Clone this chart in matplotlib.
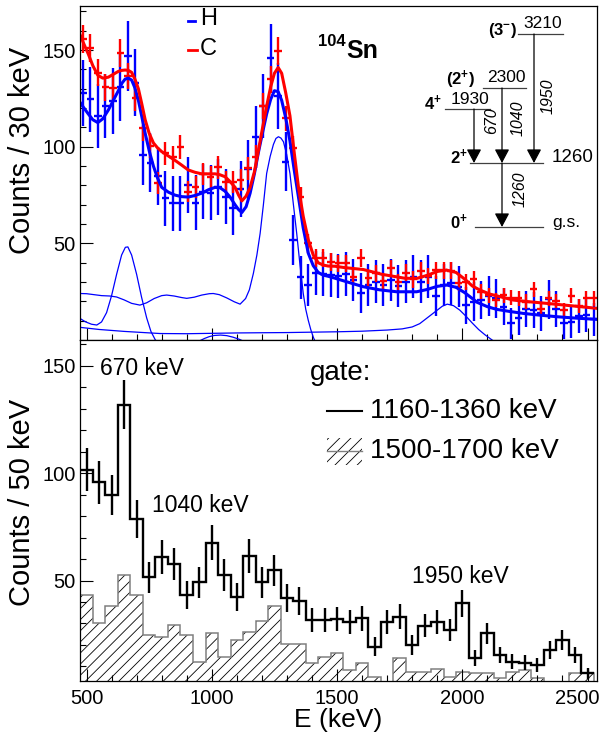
import numpy as np
import matplotlib
matplotlib.use("Agg")
import matplotlib.pyplot as plt
from matplotlib.patches import Rectangle
from matplotlib.ticker import MultipleLocator
from matplotlib.transforms import ScaledTranslation

plt.rcParams['font.family'] = ['Liberation Sans', 'DejaVu Sans']
plt.rcParams['mathtext.fontset'] = 'custom'
plt.rcParams['mathtext.rm'] = 'Liberation Sans'
plt.rcParams['mathtext.it'] = 'Liberation Sans:italic'
plt.rcParams['mathtext.bf'] = 'Liberation Sans:bold'
plt.rcParams['hatch.linewidth'] = 0.6

# ---- upper panel: 30 keV bins, H and C targets
top_bins = np.arange(485, 2526, 30)
h_counts = [128, 124.5, 115.9, 121.1, 123.8, 130.7, 146.9, 133.1, 95.7, 91.8,
            84.9, 73.3, 70.7, 70.7, 80.2, 71.1, 76.8, 76.3, 79.3, 74.2,
            68.1, 78, 88.3, 105.2, 121.1, 145.7, 126.3, 92.3, 51.8, 32.4,
            28.5, 34.9, 34.2, 33.5,
            33.1, 34.2, 31.1, 24.2, 28.5, 30.2, 28.5, 31.1, 28.0, 30.2,
            32.8, 30.2, 32.8, 22.8, 28.5, 29.3, 27.6, 18.1, 19.9, 20.7,
            22.8, 21.6, 17.3, 8.6, 11.2, 15.9, 15.5, 13.8, 21.1, 15.9,
            9.0, 9.5, 12.4, 13.0, 10.7]
h_err = [17.1, 17.0, 16.6, 16.8, 17.0, 17.3, 18.0, 17.4, 15.5, 15.3,
         14.9, 14.2, 14.1, 14.1, 14.6, 14.1, 14.4, 14.4, 14.6, 14.3,
         13.9, 14.5, 15.1, 16.0, 16.8, 18.0, 17.1, 15.3, 12.8, 11.2,
         10.8, 11.4, 11.3, 11.3,
         11.2, 11.3, 11.0, 10.3, 10.8, 11.0, 10.8, 11.0, 10.7, 11.0,
         11.2, 11.0, 11.2, 10.2, 10.8, 10.9, 10.7, 9.6, 9.9, 10.0,
         10.2, 10.0, 9.5, 8.2, 8.7, 9.3, 9.3, 9.1, 10.0, 9.3,
         8.3, 8.4, 8.9, 9.0, 8.6]
c_counts = [155.6, 150.9, 138.3, 130.7, 130.2, 148.6, 136.6, 125.0, 109.5, 100.5,
            81.4, 96.6, 94.5, 100.0, 76.8, 79.3, 85.9, 84.5, 89.3, 81.9,
            81.9, 82.8, 88.8, 94.9, 121.1, 134.9, 149.7, 114.7, 99.2, 73.8,
            50.0, 42.3, 42.3, 40.6,
            39.7, 39.7, 32.8, 42.3, 31.9, 34.5, 30.5, 37.1, 30.2, 34.9,
            31.4, 35.9, 33.1, 36.2, 36.2, 35.9, 29.7, 30.2, 31.4, 25.0,
            23.3, 20.7, 23.3, 21.9, 21.6, 19.9, 26.2, 15.9, 21.6, 20.4,
            15.5, 23.0, 17.6, 21.6, 21.6]
c_err = [7.3, 7.2, 7.0, 6.8, 6.8, 7.2, 6.9, 6.7, 6.4, 6.2,
         5.7, 6.1, 6.1, 6.2, 5.6, 5.7, 5.9, 5.8, 5.9, 5.8,
         5.8, 5.8, 5.9, 6.1, 6.6, 6.9, 7.2, 6.5, 6.2, 5.6,
         4.9, 4.6, 4.6, 4.6,
         4.5, 4.5, 4.3, 4.6, 4.2, 4.3, 4.2, 4.4, 4.2, 4.3,
         4.2, 4.4, 4.3, 4.4, 4.4, 4.4, 4.1, 4.2, 4.2, 3.9,
         3.9, 3.7, 3.9, 3.8, 3.8, 3.7, 4.0, 3.5, 3.8, 3.7,
         3.5, 3.8, 3.6, 3.8, 3.8]

# fit curves
fit_h_e = [474, 490, 507, 525, 545, 565, 587, 607, 627, 642, 654, 667, 680, 693, 707,
           720, 734, 750, 767, 783, 800, 827, 853, 880, 906, 933, 960, 987, 1013, 1033,
           1053, 1073, 1093, 1107, 1120, 1137, 1153, 1170, 1186, 1203, 1219, 1235, 1250,
           1265, 1279, 1295, 1312, 1329, 1346, 1365, 1385, 1405, 1425, 1445, 1465, 1492,
           1530, 1605, 1670, 1738, 1818, 1860, 1900, 1938, 1975, 2010, 2031, 2060, 2100,
           2137, 2190, 2244, 2310, 2377, 2450, 2540]
fit_h = [123, 120, 117, 114, 112.5, 114.5, 119, 124, 129, 133, 135, 135.5, 134.5, 130.5, 124,
         116, 107, 98, 90, 84, 79, 76.5, 75, 74.2, 74, 74.8, 76, 77.8, 79, 78.8,
         77, 74, 70, 67.5, 66, 69, 76, 86, 97, 107.5, 117, 124.5, 129,
         128.5, 124, 115, 103, 88, 74, 58, 45, 38.5, 35, 33.6, 33, 32,
         30.5, 27.6, 26, 25, 25, 26.2, 27.8, 28.5, 27.3, 24.5, 22.4, 19.5, 17.3,
         15.9, 14.8, 13.8, 12.9, 12.1, 11.4, 10.7]
fit_c_e = [474, 490, 507, 525, 545, 565, 587, 607, 627, 640, 654, 667, 680, 693, 707,
           720, 734, 750, 767, 783, 800, 827, 853, 880, 906, 933, 960, 987, 1013, 1033,
           1053, 1073, 1093, 1107, 1120, 1137, 1153, 1170, 1186, 1203, 1219, 1235, 1250,
           1265, 1279, 1295, 1312, 1329, 1346, 1365, 1385, 1405, 1425, 1445, 1465, 1492,
           1530, 1605, 1680, 1770, 1818, 1860, 1900, 1938, 1975, 2010, 2040, 2070, 2110,
           2204, 2270, 2337, 2440, 2540]
fit_c = [158, 153, 148, 142, 137, 135.5, 136, 137.5, 139, 139.5, 139.7, 139.5, 138.5, 135, 130,
         122.5, 114, 107, 102, 99.5, 97.5, 95.2, 93, 90.5, 88, 86.8, 86, 86, 86, 85.5,
         84.5, 82, 79, 75, 72, 74.5, 79, 87, 98, 110, 121, 131, 138,
         141, 138, 128, 116, 97, 79, 64, 52, 44, 40, 38.8, 38.3, 38.2,
         37.5, 36.5, 34, 32, 31.9, 33.5, 35.5, 36.2, 35, 31.5, 28, 25.9, 23.8,
         20.7, 19.8, 19, 17.7, 16.4]

comp670_e = [474, 495, 520, 541, 560, 580, 600, 620, 640, 655, 665, 680, 700, 720, 740, 757, 775, 790]
comp670 = [11.2, 9.5, 8.2, 7.8, 9.4, 14.2, 23, 34, 44, 48, 48.2, 44, 34, 22, 11.5, 4.5, 0, -2]
comp1260_e = [474, 500, 530, 560, 594, 620, 650, 680, 713, 740, 770, 800, 820, 850, 880,
              900, 930, 960, 990, 1006, 1030, 1060, 1090, 1113, 1135, 1150, 1166, 1180, 1193,
              1206, 1219, 1233, 1246, 1256, 1266, 1276, 1286, 1299, 1312, 1325, 1339, 1352,
              1365, 1375, 1385, 1395, 1405, 1415]
comp1260 = [24.1, 24, 23.5, 23, 22.8, 22.3, 20.8, 19, 18.1, 19.3, 21.5, 23, 23.3, 22.8, 22,
            21.6, 22.2, 23.3, 24, 24.1, 23.5, 21.8, 19.8, 18.6, 21.5, 26, 34.5, 44, 55.2,
            70, 86.2, 95, 101.2, 104.3, 105.2, 104.5, 102.6, 96, 86.2, 71, 55.2, 39,
            24.2, 16, 10.3, 5.5, 1.6, -1.5]
comp1950_e = [474, 550, 650, 793, 900, 1000, 1100, 1193, 1300, 1400, 1500, 1600, 1700, 1760,
              1800, 1830, 1870, 1900, 1920, 1940, 1965, 1990, 2015, 2040, 2065, 2090, 2110, 2130]
comp1950 = [6.6, 5.5, 4.5, 3.4, 3.3, 3.5, 3.7, 3.8, 3.9, 4.1, 4.3, 4.6, 5.2, 5.8,
            6.8, 8.5, 12.5, 15.5, 17.5, 18.6, 17.8, 15.5, 12.3, 8.8, 5.5, 2.8, 0.9, -1]
comp1040_e = [950, 970, 990, 1010, 1035, 1060, 1085, 1110, 1125]
comp1040 = [-0.5, 0.8, 1.8, 2.4, 2.6, 2.3, 1.5, 0.4, -0.5]

# ---- lower panel: 50 keV bins, two gates
gate_edges = np.arange(475, 2526, 50)
gate_1160 = [101.6, 95.7, 89.9, 131.9, 78.7, 51.6, 60.9, 57.8, 43.3, 49.1,
             67.7, 52.6, 42.5, 61.5, 49.1, 54.7, 41.8, 40.5, 31.7, 31.7,
             32.0, 30.9, 32.4, 19.2, 30.9, 33.2, 20.0, 28.9, 30.9, 27.0,
             39.4, 14.0, 25.4, 15.3, 12.2, 11.8, 10.7, 17.7, 22.3, 15.3, 6.8]
gate_1160_err = [10.1, 9.8, 9.5, 11.5, 8.9, 7.2, 7.8, 7.6, 6.6, 7.0,
                 8.2, 7.3, 6.5, 7.8, 7.0, 7.4, 6.5, 6.4, 5.6, 5.6,
                 5.7, 5.6, 5.7, 4.4, 5.6, 5.8, 4.5, 5.4, 5.6, 5.2,
                 6.3, 3.7, 5.0, 3.9, 3.5, 3.4, 3.3, 4.2, 4.7, 3.9, 2.6]
gate_1500 = [43.3, 30.4, 38.3, 52.6, 43.3, 24.5, 23.9, 29.3, 24.5, 12.2,
             25.4, 14.6, 22.3, 26.2, 31.3, 38.3, 20.5, 20.5, 11.5, 14.6,
             16.1, 8.3, 11.5, 5.2, 0, 13.8, 7.6, 7.3, 8.7, 5.2,
             7.6, 6.8, 6.8, 4.5, 7.6, 8.3, 4.5, 2.5, 2.5, 6.8, 6.8]

# ---- level scheme of 104Sn
levels = [0, 1260, 1930, 2300, 3210]
level_spins = [r'$\mathbf{0^{+}}$', r'$\mathbf{2^{+}}$', r'$\mathbf{4^{+}}$',
               r'$\mathbf{(2^{+})}$', r'$\mathbf{(3^{-})}$']
gammas = [(1930, 1260, '670'), (2300, 1260, '1040'), (3210, 1260, '1950'), (1260, 0, '1260')]


def style_axis(ax, ylim):
    ax.set_xlim(474, 2538)
    ax.set_ylim(*ylim)
    ax.xaxis.set_major_locator(MultipleLocator(500))
    ax.xaxis.set_minor_locator(MultipleLocator(100))
    ax.yaxis.set_major_locator(MultipleLocator(50))
    ax.yaxis.set_minor_locator(MultipleLocator(10))
    ax.tick_params(which='both', direction='in', top=False, right=False,
                   labelsize=14.5, width=0.8, pad=3)
    ax.tick_params(which='major', length=9)
    ax.tick_params(which='minor', length=4.5)
    for s in ax.spines.values():
        s.set_linewidth(0.9)


fig = plt.figure(figsize=(6.09, 7.36), dpi=100)
ax1 = fig.add_axes([0.1314, 0.5387, 0.849, 0.4531])
ax2 = fig.add_axes([0.1314, 0.0747, 0.849, 0.4640])

# upper panel
ax1.errorbar(top_bins, h_counts, xerr=15, yerr=h_err, fmt='none',
             ecolor='blue', elinewidth=1.7)
ax1.errorbar(top_bins, c_counts, xerr=15, yerr=c_err, fmt='none',
             ecolor='red', elinewidth=1.7)
for ce, cv in [(comp670_e, comp670), (comp1260_e, comp1260),
               (comp1950_e, comp1950), (comp1040_e, comp1040)]:
    ax1.plot(ce, cv, color='blue', lw=0.9)
ax1.plot(fit_h_e, fit_h, color='blue', lw=2.2)
ax1.plot(fit_c_e, fit_c, color='red', lw=2.2)
style_axis(ax1, (0.3, 172.8))
ax1.tick_params(labelbottom=False)

# lower panel
ax2.stairs(gate_1500, gate_edges, fill=True, facecolor='none', hatch='///',
           edgecolor='black', linewidth=0)
ax2.stairs(gate_1500, gate_edges, color='0.5', lw=1.1)
ax2.stairs(gate_1160, gate_edges, color='black', lw=1.7, baseline=None)
ax2.errorbar(gate_edges[:-1] + 25, gate_1160, yerr=gate_1160_err, fmt='none',
             ecolor='black', elinewidth=1.7)
style_axis(ax2, (3.2, 162.3))
ax2.tick_params(axis='x', pad=6)
ax2.text(720, 149, '670 keV', ha='center', va='center', fontsize=16.5)
ax2.text(953, 85, '1040 keV', ha='center', va='center', fontsize=16.5)
ax2.text(1991, 52, '1950 keV', ha='center', va='center', fontsize=16.5)

# overlay in pixel coordinates for labels, legends and the level scheme
ov = fig.add_axes([0, 0, 1, 1], zorder=10)
ov.set_xlim(0, 609)
ov.set_ylim(736, 0)
ov.axis('off')
ov.patch.set_alpha(0)

ov.text(22, 150, 'Counts / 30 keV', rotation=90, ha='center', va='center', fontsize=21)
ov.text(22, 502, 'Counts / 50 keV', rotation=90, ha='center', va='center', fontsize=21)
ov.text(338, 720, 'E (keV)', ha='center', va='center', fontsize=19)

# H / C legend
ov.plot([188, 195], [21, 21], color='blue', lw=2)
ov.text(200, 19, 'H', ha='left', va='center', fontsize=17)
ov.plot([188, 197], [50, 50], color='red', lw=2)
ov.text(200, 49, 'C', ha='left', va='center', fontsize=17)
ov.text(318, 41, '104', ha='left', va='center', fontsize=12, fontweight='bold')
ov.text(346, 51, 'Sn', ha='left', va='center', fontsize=18, fontweight='bold')

# gate legend
ov.text(310, 373, 'gate:', ha='left', va='center', fontsize=20)
ov.plot([327, 362], [411, 411], color='black', lw=1.5)
ov.text(370, 411, '1160-1360 keV', ha='left', va='center', fontsize=20)
ov.add_patch(Rectangle((327, 438), 35, 27, fill=False, hatch='///',
                       edgecolor='black', linewidth=0))
ov.plot([327, 362], [451, 451], color='0.5', lw=1)
ov.text(370, 451, '1500-1700 keV', ha='left', va='center', fontsize=20)

# level scheme layout (pixels)
level_y = {0: 227, 1260: 163, 1930: 109, 2300: 88, 3210: 34}
level_x = {0: (475, 543), 1260: (470, 543), 1930: (445, 490),
           2300: (483, 526), 3210: (518, 563)}
spin_pos = {0: (468, 222), 1260: (468, 157), 1930: (442, 103),
            2300: (475, 80), 3210: (517, 30)}
gamma_x = {'670': 474, '1040': 502, '1950': 534, '1260': 502}
gamma_lab = {'670': (492, 121), '1040': (518, 118), '1950': (548, 96), '1260': (520, 189)}

for lev, spin in zip(levels, level_spins):
    x0, x1 = level_x[lev]
    y = level_y[lev]
    ov.plot([x0, x1], [y, y], color='0.25', lw=0.9)
    sx, sy = spin_pos[lev]
    ov.text(sx, sy, spin, ha='right', va='center', fontsize=12)
    if lev == 0:
        ov.text(552, y - 4, 'g.s.', ha='left', va='center', fontsize=12.5)
    elif lev == 1260:
        ov.text(552, y - 6, str(lev), ha='left', va='center', fontsize=13.5)
    else:
        ov.text((x0 + x1) / 2 + 2, y - 10, str(lev), ha='center', va='center', fontsize=12.5)

for ei, ef, lab in gammas:
    x = gamma_x[lab]
    ov.annotate('', xy=(x, level_y[ef]), xytext=(x, level_y[ei]),
                arrowprops=dict(arrowstyle='-|>,head_length=0.6,head_width=0.32',
                                mutation_scale=14, lw=0.9, color='black',
                                shrinkA=0, shrinkB=0))
    lx, ly = gamma_lab[lab]
    ov.text(lx, ly, lab, rotation=90, ha='center', va='center',
            fontsize=11.5, fontstyle='italic')

# the last x label sits pulled inside the frame, as in the original
fig.canvas.draw()
for lab in ax2.get_xticklabels():
    if lab.get_text() == '2500':
        lab.set_transform(lab.get_transform() + ScaledTranslation(-0.1, 0, fig.dpi_scale_trans))

fig.savefig('out.png', dpi=100)
